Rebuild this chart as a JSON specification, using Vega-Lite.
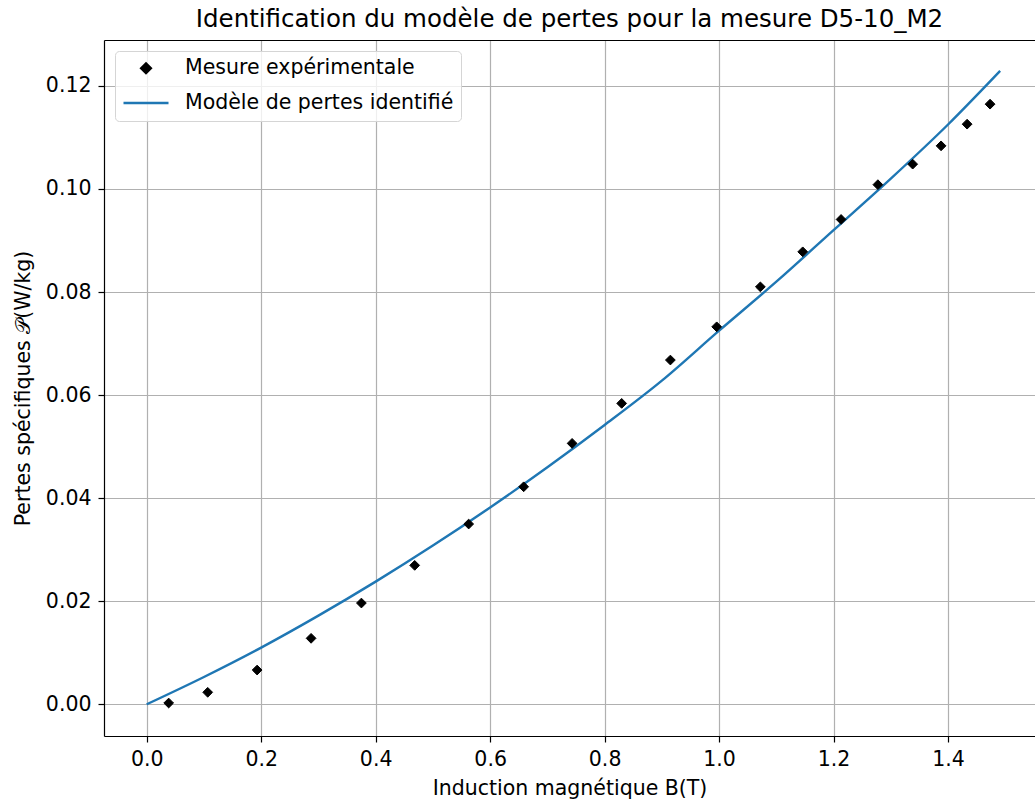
{
  "$schema": "https://vega.github.io/schema/vega-lite/v6.json",
  "width": 931,
  "height": 696,
  "autosize": {"type": "none"},
  "padding": {"left": 104, "top": 40, "right": 0, "bottom": 69},
  "background": "white",
  "title": {"text": "Identification du modèle de pertes pour la mesure D5-10_M2", "font": "DejaVu Sans", "fontSize": 24.5, "fontWeight": "normal", "color": "black", "offset": 8, "anchor": "middle"},
  "config": {
    "view": {"stroke": null},
    "axis": {"labelFont": "DejaVu Sans", "titleFont": "DejaVu Sans", "labelFontSize": 20.5, "titleFontSize": 20.5, "titleFontWeight": "normal", "labelColor": "black", "titleColor": "black", "domainColor": "black", "domainWidth": 1.2, "tickColor": "black", "tickWidth": 1.2, "tickSize": 6, "gridColor": "#b0b0b0", "gridWidth": 1.2, "labelPadding": 7},
    "legend": {"labelFont": "DejaVu Sans", "labelFontSize": 20.5, "labelColor": "black", "labelLimit": 0}
  },
  "resolve": {"axis": {"x": "independent"}},
  "datasets": {
    "mesure": [
      {"B": 0.0384, "P": 0.00025, "series": "Mesure expérimentale"},
      {"B": 0.1066, "P": 0.00233, "series": "Mesure expérimentale"},
      {"B": 0.1929, "P": 0.00665, "series": "Mesure expérimentale"},
      {"B": 0.2872, "P": 0.0128, "series": "Mesure expérimentale"},
      {"B": 0.3751, "P": 0.01965, "series": "Mesure expérimentale"},
      {"B": 0.4682, "P": 0.02696, "series": "Mesure expérimentale"},
      {"B": 0.5625, "P": 0.03498, "series": "Mesure expérimentale"},
      {"B": 0.6586, "P": 0.04221, "series": "Mesure expérimentale"},
      {"B": 0.7432, "P": 0.05063, "series": "Mesure expérimentale"},
      {"B": 0.8298, "P": 0.05839, "series": "Mesure expérimentale"},
      {"B": 0.9149, "P": 0.0668, "series": "Mesure expérimentale"},
      {"B": 0.9958, "P": 0.07325, "series": "Mesure expérimentale"},
      {"B": 1.0721, "P": 0.081, "series": "Mesure expérimentale"},
      {"B": 1.1461, "P": 0.0878, "series": "Mesure expérimentale"},
      {"B": 1.2131, "P": 0.09408, "series": "Mesure expérimentale"},
      {"B": 1.2774, "P": 0.10083, "series": "Mesure expérimentale"},
      {"B": 1.3382, "P": 0.10481, "series": "Mesure expérimentale"},
      {"B": 1.3878, "P": 0.10836, "series": "Mesure expérimentale"},
      {"B": 1.4333, "P": 0.11257, "series": "Mesure expérimentale"},
      {"B": 1.4734, "P": 0.11645, "series": "Mesure expérimentale"}
    ],
    "modele": [
      {"B": 0.0, "P": 0.0, "series": "Modèle de pertes identifié"},
      {"B": 0.1, "P": 0.0053, "series": "Modèle de pertes identifié"},
      {"B": 0.2, "P": 0.011, "series": "Modèle de pertes identifié"},
      {"B": 0.3, "P": 0.0172, "series": "Modèle de pertes identifié"},
      {"B": 0.4, "P": 0.0238, "series": "Modèle de pertes identifié"},
      {"B": 0.5, "P": 0.0308, "series": "Modèle de pertes identifié"},
      {"B": 0.6, "P": 0.0382, "series": "Modèle de pertes identifié"},
      {"B": 0.7, "P": 0.046, "series": "Modèle de pertes identifié"},
      {"B": 0.8, "P": 0.0542, "series": "Modèle de pertes identifié"},
      {"B": 0.9, "P": 0.0628, "series": "Modèle de pertes identifié"},
      {"B": 1.0, "P": 0.0725, "series": "Modèle de pertes identifié"},
      {"B": 1.1, "P": 0.082, "series": "Modèle de pertes identifié"},
      {"B": 1.2, "P": 0.092, "series": "Modèle de pertes identifié"},
      {"B": 1.3, "P": 0.102, "series": "Modèle de pertes identifié"},
      {"B": 1.4, "P": 0.1125, "series": "Modèle de pertes identifié"},
      {"B": 1.491, "P": 0.1229, "series": "Modèle de pertes identifié"}
    ]
  },
  "layer": [
    {
      "data": {"name": "modele"},
      "mark": {"type": "line", "strokeWidth": 2.4, "interpolate": "monotone"},
      "encoding": {
        "x": {"field": "B", "type": "quantitative", "scale": {"domain": [-0.0746, 1.5519], "nice": false, "zero": false},
          "axis": {"orient": "bottom", "values": [0, 0.2, 0.4, 0.6, 0.8, 1.0, 1.2, 1.4], "format": ".1f", "title": "Induction magnétique B(T)", "titlePadding": 9}},
        "y": {"field": "P", "type": "quantitative", "scale": {"domain": [-0.00615, 0.1289], "nice": false, "zero": false},
          "axis": {"values": [0, 0.02, 0.04, 0.06, 0.08, 0.1, 0.12], "format": ".2f", "title": "Pertes spécifiques 𝒫(W/kg)", "titlePadding": 12}},
        "color": {"field": "series", "type": "nominal", "scale": {"domain": ["Mesure expérimentale", "Modèle de pertes identifié"], "range": ["black", "#1f77b4"]},
          "legend": {"title": null, "orient": "top-left", "offset": 11, "padding": 7, "rowPadding": -13, "labelOffset": 15, "symbolStrokeWidth": 2.4, "fillColor": "rgba(255,255,255,0.8)", "strokeColor": "#d5d5d5", "cornerRadius": 4}}
      }
    },
    {
      "data": {"name": "mesure"},
      "mark": {"type": "point", "filled": true, "opacity": 1, "strokeWidth": 1},
      "encoding": {
        "x": {"field": "B", "type": "quantitative", "axis": {"orient": "top", "labels": false, "ticks": false, "grid": false, "title": null, "domain": true}},
        "y": {"field": "P", "type": "quantitative"},
        "color": {"field": "series", "type": "nominal"},
        "stroke": {"field": "series", "type": "nominal", "scale": {"domain": ["Mesure expérimentale", "Modèle de pertes identifié"], "range": ["black", "#1f77b4"]}},
        "shape": {"field": "series", "type": "nominal", "scale": {"domain": ["Mesure expérimentale", "Modèle de pertes identifié"], "range": ["diamond", "stroke"]}},
        "size": {"field": "series", "type": "nominal", "scale": {"domain": ["Mesure expérimentale", "Modèle de pertes identifié"], "range": [95, 2025]}}
      }
    }
  ]
}
